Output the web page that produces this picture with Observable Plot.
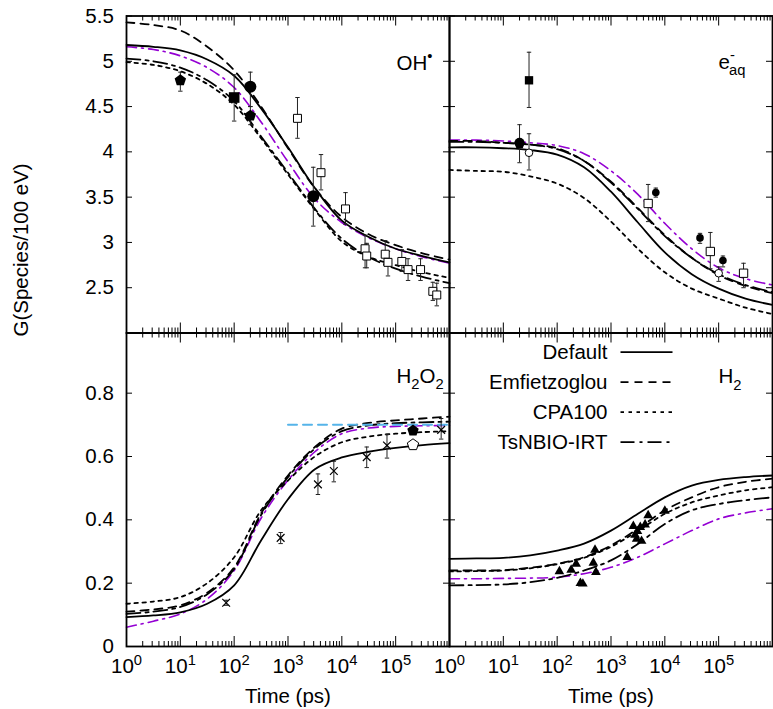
<!DOCTYPE html>
<html><head><meta charset="utf-8">
<script src="https://cdn.jsdelivr.net/npm/d3@7"></script>
<script src="https://cdn.jsdelivr.net/npm/@observablehq/plot@0.6"></script>
<style>
body{margin:0;background:#fff;}
#chart{position:relative;width:773px;height:709px;}
#chart svg{position:absolute;left:0;top:0;}
</style></head><body><div id="chart"></div>
<script>
// ---------- data ----------
const times = [1, 3.16, 10, 31.6, 100, 316, 1000, 3160, 1e4, 3.16e4, 1e5, 3.16e5, 1e6];
const models = ["Default", "Emfietzoglou", "CPA100", "TsNBIO-IRT"];

// OH panel curves
const ohDefault = [5.18, 5.16, 5.12, 5.02, 4.84, 4.48, 4.05, 3.60, 3.24, 3.06, 2.93, 2.85, 2.78];
const ohEmf     = [5.43, 5.40, 5.34, 5.16, 4.90, 4.50, 4.04, 3.60, 3.28, 3.09, 2.97, 2.88, 2.81];
const ohCpa     = [4.99, 4.96, 4.89, 4.75, 4.52, 4.15, 3.75, 3.36, 3.01, 2.84, 2.75, 2.67, 2.61];
const ohTsn     = [5.03, 5.00, 4.93, 4.79, 4.56, 4.17, 3.77, 3.37, 3.04, 2.84, 2.71, 2.62, 2.55];
const ohAlt     = [5.16, 5.13, 5.06, 4.93, 4.71, 4.33, 3.89, 3.48, 3.22, 3.05, 2.93, 2.84, 2.77];
// e-aq panel curves
const eaqDefault = [4.05, 4.05, 4.04, 4.02, 3.97, 3.83, 3.56, 3.22, 2.89, 2.65, 2.49, 2.38, 2.31];
const eaqEmf     = [4.12, 4.12, 4.10, 4.08, 4.04, 3.90, 3.67, 3.38, 3.08, 2.83, 2.64, 2.52, 2.44];
const eaqCpa     = [3.80, 3.79, 3.78, 3.73, 3.65, 3.49, 3.23, 2.93, 2.67, 2.49, 2.38, 2.28, 2.21];
const eaqTsn     = [4.11, 4.11, 4.10, 4.08, 4.03, 3.90, 3.66, 3.37, 3.07, 2.83, 2.65, 2.53, 2.45];
const eaqAlt     = [4.13, 4.13, 4.12, 4.10, 4.07, 3.98, 3.79, 3.53, 3.21, 2.93, 2.72, 2.60, 2.53];
// H2O2 panel curves
const h2o2Default = [0.093, 0.098, 0.108, 0.135, 0.193, 0.335, 0.465, 0.560, 0.597, 0.615, 0.627, 0.636, 0.642];
const h2o2Emf     = [0.110, 0.117, 0.130, 0.170, 0.250, 0.420, 0.540, 0.630, 0.688, 0.706, 0.714, 0.720, 0.726];
const h2o2Cpa     = [0.135, 0.142, 0.156, 0.200, 0.282, 0.430, 0.524, 0.600, 0.645, 0.663, 0.672, 0.677, 0.680];
const h2o2Tsn     = [0.103, 0.110, 0.125, 0.165, 0.245, 0.415, 0.535, 0.625, 0.680, 0.698, 0.705, 0.708, 0.710];
const h2o2Alt     = [0.061, 0.080, 0.103, 0.150, 0.240, 0.405, 0.525, 0.615, 0.672, 0.690, 0.695, 0.697, 0.698];
// H2 panel curves
const h2Default = [0.277, 0.278, 0.280, 0.288, 0.303, 0.325, 0.366, 0.419, 0.471, 0.508, 0.526, 0.535, 0.540];
const h2Emf     = [0.240, 0.240, 0.241, 0.249, 0.261, 0.282, 0.319, 0.372, 0.430, 0.471, 0.503, 0.520, 0.530];
const h2Cpa     = [0.237, 0.238, 0.240, 0.247, 0.260, 0.280, 0.315, 0.365, 0.419, 0.455, 0.477, 0.493, 0.503];
const h2Tsn     = [0.193, 0.194, 0.196, 0.203, 0.217, 0.240, 0.272, 0.324, 0.387, 0.430, 0.450, 0.462, 0.471];
const h2Alt     = [0.214, 0.214, 0.215, 0.216, 0.219, 0.230, 0.250, 0.282, 0.324, 0.366, 0.403, 0.422, 0.435];

// experimental points: [time, G, low, high]
const ohFilledCircles   = [[200, 4.72, 4.50, 4.88], [2950, 3.51, 3.18, 3.83]];
const ohFilledPentagons = [[10, 4.79, 4.67, 4.88], [200, 4.40, 4.30, 4.50]];
const ohFilledSquares   = [[100, 4.60, 4.34, 4.85]];
const ohOpenSquares = [[1500, 4.37, 4.15, 4.60], [4100, 3.77, 3.58, 3.97], [11700, 3.37, 3.20, 3.55],
  [27000, 2.93, 2.72, 3.08], [29000, 2.85, 2.72, 2.99], [64000, 2.87, 2.75, 3.02], [72000, 2.78, 2.63, 2.90],
  [130000, 2.79, 2.68, 2.92], [170000, 2.70, 2.58, 2.82], [290000, 2.70, 2.58, 2.82],
  [490000, 2.46, 2.36, 2.56], [580000, 2.42, 2.30, 2.55]];

const eaqFilledSquares   = [[30, 4.79, 4.49, 5.10]];
const eaqBigCircles      = [[20, 4.10, 3.88, 4.30]];
const eaqFilledPentagons = [[20, 4.09, null, null]];
const eaqFilledCircles   = [[6800, 3.55, 3.50, 3.60], [45000, 3.05, 2.99, 3.10], [120000, 2.80, 2.73, 2.85]];
const eaqOpenCircles     = [[30, 3.99, 3.80, 4.20], [100000, 2.66, 2.57, 2.73]];
const eaqOpenSquares     = [[4900, 3.43, 3.23, 3.64], [70000, 2.90, 2.71, 3.11], [290000, 2.66, 2.50, 2.77]];

const h2o2Crosses = [[71, 0.138, 0.130, 0.146], [730, 0.343, 0.325, 0.360], [3600, 0.512, 0.480, 0.545],
  [7100, 0.554, 0.520, 0.585], [29000, 0.598, 0.565, 0.630], [69000, 0.635, 0.595, 0.670], [700000, 0.684, 0.655, 0.720]];
const h2o2FilledPentagons = [[210000, 0.682, null, null]];
const h2o2OpenPentagons   = [[210000, 0.637, null, null]];
const h2o2RefLine = [[1000, 0.70], [1e6, 0.70]];

const h2Triangles = [[110, 0.237], [182, 0.242], [225, 0.261], [270, 0.200], [300, 0.198], [470, 0.264],
  [505, 0.305], [525, 0.235], [2000, 0.282], [2600, 0.380], [2800, 0.352], [3000, 0.340], [3100, 0.364],
  [3500, 0.377], [3700, 0.333], [4300, 0.385], [4900, 0.414], [10000, 0.428]];

// ticks
const xMajorTicks = [1, 10, 100, 1e3, 1e4, 1e5, 1e6];
const xTickLabelValues = [1, 10, 100, 1e3, 1e4, 1e5];
const xTickLabels = ["10^{0}", "10^{1}", "10^{2}", "10^{3}", "10^{4}", "10^{5}"];
const xMinorTicks = [];
for (let k = 0; k < 6; k++) for (let m = 2; m < 10; m++) xMinorTicks.push(m * 10 ** k);
const yTicksTop = [2.5, 3, 3.5, 4, 4.5, 5, 5.5];
const yTicksBottom = [0, 0.2, 0.4, 0.6, 0.8];

// ---------- styles ----------
const FONT = "Liberation Sans, Arial, Helvetica, sans-serif";
const FS = 20.5;
const W = 773, H = 709;
const modelDash = [undefined, "8,6", "3.5,4.5", "14,5,3,5"];
const altColor = "#9400d3";
const refColor = "#56b4e9";

const pentagon = {draw(ctx, size) {
  const R = Math.sqrt(size / Math.PI);
  for (let i = 0; i < 5; i++) {
    const a = -Math.PI / 2 + i * 2 * Math.PI / 5;
    const px = R * Math.cos(a), py = R * Math.sin(a);
    if (i) ctx.lineTo(px, py); else ctx.moveTo(px, py);
  }
  ctx.closePath();
}};
const hbar = {draw(ctx, size) {
  const R = Math.sqrt(size / Math.PI);
  ctx.moveTo(-R, 0); ctx.lineTo(R, 0);
}};
const legendLine = {draw(ctx) { ctx.moveTo(0, 0); ctx.lineTo(52, 0); }};

const asObj = arr => arr.map(([t, g, lo, hi]) => ({t, g, lo, hi}));

function pointMarks(arr, opts) {
  const data = asObj(arr);
  const withErr = data.filter(d => d.lo != null);
  const caps = withErr.flatMap(d => [{t: d.t, v: d.lo}, {t: d.t, v: d.hi}]);
  const m = [];
  if (withErr.length) {
    m.push(Plot.ruleX(withErr, {x: "t", y1: "lo", y2: "hi", stroke: "#222", strokeWidth: 1}));
    m.push(Plot.dot(caps, {x: "t", y: "v", symbol: hbar, r: 2.2, stroke: "#222", fill: "none", strokeWidth: 1}));
  }
  m.push(Plot.dot(data, {x: "t", y: "g", ...opts}));
  return m;
}

const txt = (data, o) => Plot.text(data, {lineAnchor: "middle", fontSize: FS, fontFamily: FONT, ...o});

function panel(o) {
  const innerW = W - o.ml - o.mr, innerH = H - o.mt - o.mb;
  const marks = [];
  const curveSet = [
    {v: o.curves[4], stroke: altColor, dash: "10,5,2,5", w: 1.6},
    {v: o.curves[0], stroke: "black", dash: modelDash[0], w: 1.8},
    {v: o.curves[1], stroke: "black", dash: modelDash[1], w: 1.8},
    {v: o.curves[2], stroke: "black", dash: modelDash[2], w: 1.8},
    {v: o.curves[3], stroke: "black", dash: modelDash[3], w: 1.8}
  ];
  for (const c of curveSet) {
    marks.push(Plot.line(times.map((t, i) => ({t, g: c.v[i]})), {
      x: "t", y: "g", stroke: c.stroke, strokeWidth: c.w, strokeDasharray: c.dash, curve: "catmull-rom"
    }));
  }
  if (o.extra) marks.push(...o.extra);
  // ticks (inside, mirrored)
  marks.push(Plot.ruleX(xMajorTicks, {x: d => d, insetTop: innerH - 10, stroke: "black", strokeWidth: 1}));
  marks.push(Plot.ruleX(xMajorTicks, {x: d => d, insetBottom: innerH - 10, stroke: "black", strokeWidth: 1}));
  marks.push(Plot.ruleX(xMinorTicks, {x: d => d, insetTop: innerH - 5, stroke: "black", strokeWidth: 1}));
  marks.push(Plot.ruleX(xMinorTicks, {x: d => d, insetBottom: innerH - 5, stroke: "black", strokeWidth: 1}));
  marks.push(Plot.ruleY(o.yTicks, {y: d => d, insetRight: innerW - 6, stroke: "black", strokeWidth: 1}));
  marks.push(Plot.ruleY(o.yTicks, {y: d => d, insetLeft: innerW - 6, stroke: "black", strokeWidth: 1}));
  marks.push(Plot.frame({stroke: "black", strokeWidth: 1.8}));
  if (o.yLabels) {
    marks.push(txt(o.yTicks, {y: d => d, frameAnchor: "left", dx: -12.7, textAnchor: "end", text: d => String(d)}));
  }
  if (o.xLabels) {
    marks.push(txt(xTickLabelValues, {x: d => d, frameAnchor: "bottom", dy: 20.4, text: (d, i) => xTickLabels[i]}));
    marks.push(txt(["Time (ps)"], {frameAnchor: "bottom", dy: 50.4, text: d => d}));
  }
  marks.push(txt([o.label], {frameAnchor: "top-left", dx: o.labelDx, dy: o.labelDy, textAnchor: "start", text: d => d}));
  if (o.after) marks.push(...o.after);
  const svg = Plot.plot({
    width: W, height: H,
    marginLeft: o.ml, marginRight: o.mr, marginTop: o.mt, marginBottom: o.mb,
    x: {type: "log", domain: [1, 1e6], axis: null},
    y: {domain: o.yDomain, axis: null},
    style: {background: "transparent", overflow: "visible", fontFamily: FONT, position: "absolute", left: "0px", top: "0px", maxWidth: "none"},
    marks
  });
  richify(svg);
  return svg;
}

function richify(svg) {
  svg.querySelectorAll("text").forEach(el => {
    const s = el.textContent;
    if (!/[\^_]\{/.test(s)) return;
    const g = el.closest("[font-size]");
    const fs = g ? parseFloat(g.getAttribute("font-size")) : FS;
    el.textContent = "";
    const re = /([\^_])\{([^}]*)\}|([^\^_]+)/g;
    let m, cur = 0, prev = null;
    while ((m = re.exec(s))) {
      const ts = document.createElementNS("http://www.w3.org/2000/svg", "tspan");
      let target = 0, size = fs, t;
      if (m[3] !== undefined) { t = m[3]; }
      else if (m[1] === "^") { target = -0.42 * fs; size = 0.72 * fs; t = m[2]; }
      else { target = 0.3 * fs; size = 0.72 * fs; t = m[2]; }
      ts.setAttribute("dy", (target - cur).toFixed(2));
      ts.setAttribute("font-size", size.toFixed(2));
      if (prev === "^" && m[1] === "_") ts.setAttribute("dx", (-0.28 * fs).toFixed(2));
      ts.textContent = t;
      el.appendChild(ts);
      cur = target; prev = m[1] || null;
    }
  });
}

const chart = document.getElementById("chart");

// top-left: OH
chart.appendChild(panel({
  ml: 126, mr: 324, mt: 15.5, mb: 376.5, yDomain: [2, 5.5], yTicks: yTicksTop, yLabels: true,
  curves: [ohDefault, ohEmf, ohCpa, ohTsn, ohAlt],
  label: "OH^{•}", labelDx: 270, labelDy: 47.2,
  extra: [
    ...pointMarks(ohOpenSquares, {symbol: "square", r: 4.5, fill: "white", stroke: "black", strokeWidth: 1}),
    ...pointMarks(ohFilledSquares, {symbol: "square", r: 6, fill: "black"}),
    ...pointMarks(ohFilledPentagons, {symbol: pentagon, r: 6, fill: "black"}),
    ...pointMarks(ohFilledCircles, {symbol: "circle", r: 6, fill: "black"})
  ],
  after: [
    txt(["G(Species/100 eV)"], {frameAnchor: "bottom-left", dx: -105, dy: 3.5, rotate: -90, text: d => d})
  ]
}));

// top-right: e-aq
chart.appendChild(panel({
  ml: 449, mr: 1, mt: 15.5, mb: 376.5, yDomain: [2, 5.5], yTicks: yTicksTop, yLabels: false,
  curves: [eaqDefault, eaqEmf, eaqCpa, eaqTsn, eaqAlt],
  label: "e^{-}_{aq}", labelDx: 269, labelDy: 46.2,
  extra: [
    ...pointMarks(eaqOpenSquares, {symbol: "square", r: 4.7, fill: "white", stroke: "black", strokeWidth: 1}),
    ...pointMarks(eaqOpenCircles, {symbol: "circle", r: 3.8, fill: "white", stroke: "black", strokeWidth: 1}),
    ...pointMarks(eaqFilledSquares, {symbol: "square", r: 4.7, fill: "black"}),
    ...pointMarks(eaqBigCircles, {symbol: "circle", r: 5, fill: "black"}),
    ...pointMarks(eaqFilledPentagons, {symbol: pentagon, r: 5.5, fill: "black"}),
    ...pointMarks(eaqFilledCircles, {symbol: "circle", r: 3.8, fill: "black"})
  ]
}));

// bottom-left: H2O2
chart.appendChild(panel({
  ml: 126, mr: 324, mt: 332.5, mb: 63, yDomain: [0, 0.99], yTicks: yTicksBottom, yLabels: true, xLabels: true,
  curves: [h2o2Default, h2o2Emf, h2o2Cpa, h2o2Tsn, h2o2Alt],
  label: "H_{2}O_{2}", labelDx: 270, labelDy: 43.6,
  extra: [
    Plot.line(h2o2RefLine, {x: d => d[0], y: d => d[1], stroke: refColor, strokeWidth: 2, strokeDasharray: "9,6"}),
    ...pointMarks(h2o2Crosses, {symbol: "times", r: 3.6, fill: "none", stroke: "black", strokeWidth: 1.2}),
    ...pointMarks(h2o2OpenPentagons, {symbol: pentagon, r: 6, fill: "white", stroke: "black", strokeWidth: 1}),
    ...pointMarks(h2o2FilledPentagons, {symbol: pentagon, r: 6, fill: "black"})
  ]
}));

// bottom-right: H2 with legend
const legendMarks = [];
models.forEach((name, i) => {
  legendMarks.push(txt([name], {frameAnchor: "top-left", dx: 158, dy: 19 + 30 * i, textAnchor: "end", text: d => d}));
  legendMarks.push(Plot.dot([name], {frameAnchor: "top-left", dx: 171, dy: 19.2 + 30 * i, symbol: legendLine, r: 1,
    fill: "none", stroke: "black", strokeWidth: 1.8, strokeDasharray: modelDash[i]}));
});
chart.appendChild(panel({
  ml: 449, mr: 1, mt: 332.5, mb: 63, yDomain: [0, 0.99], yTicks: yTicksBottom, yLabels: false, xLabels: true,
  curves: [h2Default, h2Emf, h2Cpa, h2Tsn, h2Alt],
  label: "H_{2}", labelDx: 269, labelDy: 43.9,
  extra: [
    ...pointMarks(h2Triangles.map(d => [d[0], d[1], null, null]), {symbol: "triangle", r: 3.6, fill: "black"})
  ],
  after: legendMarks
}));
</script>
</body></html>
